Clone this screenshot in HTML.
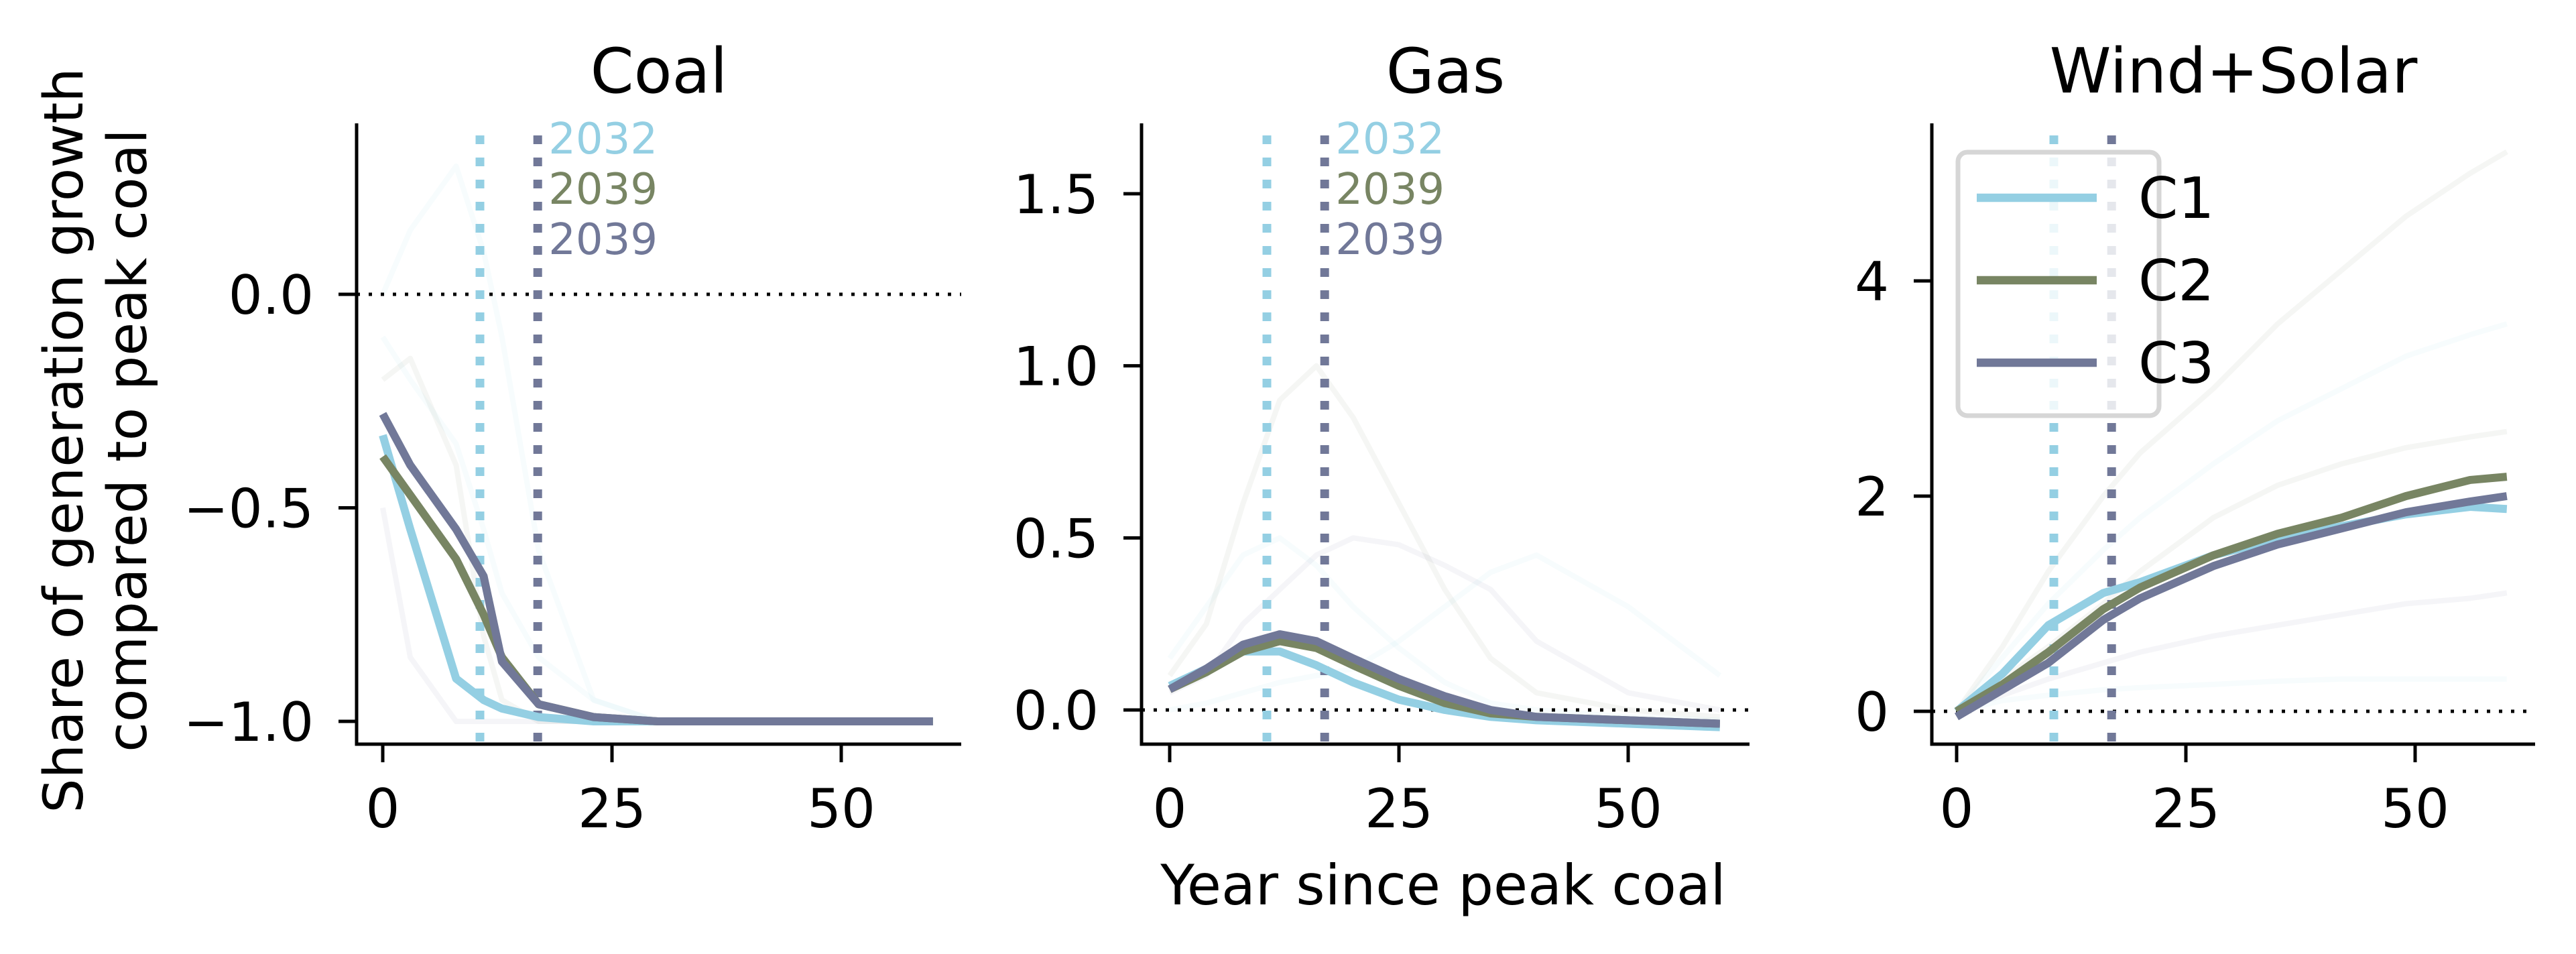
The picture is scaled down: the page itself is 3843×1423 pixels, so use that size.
<!DOCTYPE html>
<html><head><meta charset="utf-8"><style>
html,body{margin:0;padding:0;background:#fff}
svg{display:block}
text{font-family:"DejaVu Sans","Liberation Sans",sans-serif}
</style></head><body>
<svg id="chart" width="3843" height="1423" viewBox="0 0 3843 1423" xmlns="http://www.w3.org/2000/svg">
<g id="root"></g>
</svg>
<script>
// ---- data ----
const coalYears=[0,3,8,11,13,17,23,30,40,50,60];
const coalC1=[-0.33,-0.55,-0.9,-0.95,-0.97,-0.99,-1,-1,-1,-1,-1];
const coalC2=[-0.38,-0.47,-0.62,-0.75,-0.85,-0.96,-0.99,-1,-1,-1,-1];
const coalC3=[-0.28,-0.4,-0.55,-0.66,-0.86,-0.96,-0.99,-1,-1,-1,-1];
const coalBg1=[0.0,0.15,0.3,0.1,-0.1,-0.6,-0.95,-1,-1,-1,-1];
const coalBg2=[-0.2,-0.15,-0.4,-0.8,-0.95,-1,-1,-1,-1,-1,-1];
const coalBg3=[-0.5,-0.85,-1,-1,-1,-1,-1,-1,-1,-1,-1];
const coalBg4=[-0.1,-0.2,-0.35,-0.55,-0.7,-0.85,-0.95,-1,-1,-1,-1];
const gasYears=[0,4,8,12,16,20,25,30,35,40,50,60];
const gasC1=[0.07,0.12,0.17,0.17,0.13,0.08,0.03,0,-0.02,-0.03,-0.04,-0.05];
const gasC2=[0.06,0.11,0.17,0.2,0.18,0.13,0.07,0.02,-0.01,-0.02,-0.03,-0.04];
const gasC3=[0.06,0.12,0.19,0.22,0.2,0.15,0.09,0.04,0,-0.02,-0.03,-0.04];
const gasBg1=[0.15,0.3,0.45,0.5,0.42,0.3,0.18,0.08,0.02,0,-0.02,-0.03];
const gasBg2=[0.1,0.25,0.6,0.9,1.0,0.85,0.6,0.35,0.15,0.05,0,-0.02];
const gasBg3=[0.05,0.1,0.25,0.35,0.45,0.5,0.48,0.42,0.35,0.2,0.05,0];
const gasBg4=[0.0,0.02,0.05,0.08,0.1,0.12,0.2,0.3,0.4,0.45,0.3,0.1];
const windYears=[0,5,10,16,20,28,35,42,49,56,60];
const windC1=[0,0.35,0.8,1.1,1.2,1.45,1.6,1.72,1.83,1.9,1.88];
const windC2=[0,0.25,0.55,0.95,1.15,1.45,1.65,1.8,2.0,2.15,2.18];
const windC3=[-0.05,0.2,0.45,0.85,1.05,1.35,1.55,1.7,1.85,1.95,2.0];
const windBg1=[0,0.5,1.0,1.5,1.8,2.3,2.7,3.0,3.3,3.5,3.6];
const windBg2=[0,0.3,0.6,1.0,1.3,1.8,2.1,2.3,2.45,2.55,2.6];
const windBg3=[0,0.15,0.3,0.45,0.55,0.7,0.8,0.9,1.0,1.05,1.1];
const windBg4=[0,0.1,0.15,0.2,0.22,0.25,0.28,0.3,0.3,0.3,0.3];
const windBg5=[0,0.6,1.3,2.0,2.4,3.0,3.6,4.1,4.6,5.0,5.2];
const coalTicks=[0,-0.5,-1];const coalTickLabels=["0.0","−0.5","−1.0"];
const gasTicks=[0,0.5,1,1.5];const gasTickLabels=["0.0","0.5","1.0","1.5"];
const windTicks=[0,2,4];const windTickLabels=["0","2","4"];
const xTicks=[0,25,50];
const peakYears=[10.6,16.9];
const annoLabels=["2032","2039","2039"];
const seriesNames=["C1","C2","C3"];
// ---- render ----
const NS="http://www.w3.org/2000/svg";
const root=document.getElementById('root');
const COL=["#94cfe3","#788563","#717898"];
function el(tag,attrs,parent,txt){const e=document.createElementNS(NS,tag);for(const k in attrs)e.setAttribute(k,attrs[k]);if(txt!==undefined)e.textContent=txt;(parent||root).appendChild(e);return e;}
const panels=[
 {name:"coal",title:"Coal",L:532,R:1434,T:184,B:1110,x0:571,x50:1255,y0v:0,y0p:439,y1v:-1,y1p:1076,years:coalYears,ser:[coalC1,coalC2,coalC3],bg:[coalBg1,coalBg2,coalBg3,coalBg4],ticks:coalTicks,tl:coalTickLabels,anno:true},
 {name:"gas",title:"Gas",L:1703,R:2610,T:184,B:1110,x0:1745,x50:2429,y0v:0,y0p:1059,y1v:1.5,y1p:289,years:gasYears,ser:[gasC1,gasC2,gasC3],bg:[gasBg1,gasBg2,gasBg3,gasBg4],ticks:gasTicks,tl:gasTickLabels,anno:true},
 {name:"wind-solar",title:"Wind+Solar",L:2882,R:3782,T:184,B:1110,x0:2919,x50:3603,y0v:0,y0p:1061,y1v:4,y1p:419,years:windYears,ser:[windC1,windC2,windC3],bg:[windBg1,windBg2,windBg3,windBg4,windBg5],ticks:windTicks,tl:windTickLabels,anno:false,legend:true}
];
panels.forEach(p=>{
 const g=el('g',{});
 
 
 const xs=v=>p.x0+(p.x50-p.x0)*v/50;
 const ys=v=>p.y0p+(p.y1p-p.y0p)*(v-p.y0v)/(p.y1v-p.y0v);
 p.bg.forEach((arr,i)=>{
  const pl=el('polyline',{points:arr.map((v,j)=>xs(p.years[j])+','+ys(v)).join(' '),fill:'none',stroke:COL[i%3],'stroke-width':8,'stroke-opacity':0.07,'stroke-linejoin':'round'},g);
  
  
 });
 const z=el('line',{x1:p.L,x2:p.R,y1:ys(0),y2:ys(0),stroke:'#000','stroke-width':5,'stroke-dasharray':'5 13'},g);
 
 
 peakYears.forEach((yr,i)=>{
  const vl=el('line',{x1:xs(yr),x2:xs(yr),y1:202,y2:p.B,stroke:i==0?COL[0]:COL[2],'stroke-width':13,'stroke-dasharray':'13 20'},g);
  
  
 });
 p.ser.forEach((arr,i)=>{
  const pl=el('polyline',{points:arr.map((v,j)=>xs(p.years[j])+','+ys(v)).join(' '),fill:'none',stroke:COL[i],'stroke-width':12,'stroke-linejoin':'round'},g);
  
  
 });
 const ax=el('path',{d:`M${p.L},${p.T} V${p.B} H${p.R}`,fill:'none',stroke:'#000','stroke-width':5},g);
 
 
 p.ticks.forEach((t,i)=>{
  el('line',{x1:p.L-27,x2:p.L,y1:ys(t),y2:ys(t),stroke:'#000','stroke-width':5},g);
  const tx=el('text',{x:p.L-64,y:ys(t)+29,'font-size':80,'text-anchor':'end'},g,p.tl[i]);
  
  
 });
 xTicks.forEach(t=>{
  el('line',{x1:xs(t),x2:xs(t),y1:p.B,y2:p.B+27,stroke:'#000','stroke-width':5},g);
  const tx=el('text',{x:xs(t),y:1234,'font-size':80,'text-anchor':'middle'},g,String(t));
  
  
 });
 const tt=el('text',{x:(p.L+p.R)/2,y:138,'font-size':93,'text-anchor':'middle'},g,p.title);
 
 
 if(p.anno){
  annoLabels.forEach((s,i)=>{
   const a=el('text',{x:xs(peakYears[1])+16,y:229+i*75,'font-size':64,fill:COL[i]},g,s);
   
   
  });
 }
 if(p.legend){
  const lg=el('g',{},g);
  
  
  el('rect',{x:2921,y:227,width:300,height:393,rx:14,fill:'#fff','fill-opacity':0.82,stroke:'#d6d6d6','stroke-width':7},lg);
  seriesNames.forEach((s,i)=>{
   const y=295+i*123;
   el('line',{x1:2949,x2:3128,y1:y,y2:y,stroke:COL[i],'stroke-width':12.5},lg);
   const lt=el('text',{x:3190,y:y+30,'font-size':85},lg,s);
   
   
  });
 }
});
const xl=el('text',{x:2153,y:1349,'font-size':83,'text-anchor':'middle'},root,'Year since peak coal');


const yl=el('text',{transform:'translate(123,657) rotate(-90)','font-size':81,'text-anchor':'middle'},root);


el('tspan',{x:0,y:0},yl,'Share of generation growth');
el('tspan',{x:0,y:95},yl,'compared to peak coal');
</script>
</body></html>
